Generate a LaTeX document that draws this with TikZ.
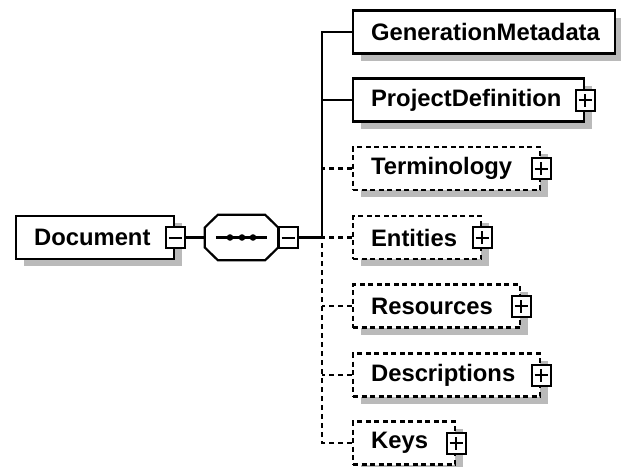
\documentclass[tikz,border=0pt]{standalone}
\usepackage{fontspec}
\setmainfont{Liberation Sans}
\usetikzlibrary{positioning,shadows,calc}

\begin{document}
\begin{tikzpicture}[x=1pt, y=-1pt,
  elem/.style={draw, line width=2.2pt, fill=white, anchor=west, align=left,
    inner xsep=18pt, inner ysep=0pt, minimum height=43pt,
    font=\fontsize{23.8}{27}\selectfont\bfseries,
    drop shadow={shadow xshift=8pt, shadow yshift=-7pt, opacity=1, fill=black!27}},
  optelem/.style={elem, dash pattern=on 5pt off 3.5pt},
  plusbox/.style={draw, fill=white, line width=2pt, minimum width=19pt, minimum height=21pt, inner sep=0pt,
    path picture={
      \draw[line width=2pt] ([xshift=3pt]path picture bounding box.west) -- ([xshift=-3pt]path picture bounding box.east);
      \draw[line width=2pt] ([yshift=4pt]path picture bounding box.south) -- ([yshift=-4pt]path picture bounding box.north);}},
  minusbox/.style={draw, fill=white, line width=2pt, minimum width=19pt, minimum height=21pt, inner sep=0pt,
    path picture={
      \draw[line width=2pt] ([xshift=3pt]path picture bounding box.west) -- ([xshift=-3pt]path picture bounding box.east);}},
  seqbox/.style={minimum width=73pt, minimum height=45pt, inner sep=0pt},
  conn/.style={line width=2.2pt},
  optconn/.style={conn, dash pattern=on 5pt off 4pt}]
\useasboundingbox (0,0) rectangle (621,466);

% root element and sequence
\node[elem, text width=122pt] (doc) at (15,237.5) {Document};
\node[minusbox] (docm) at (doc.east) {};
\node[seqbox] (seq) at (241.5,237.5) {};
\fill[black!27, shift={(8,7)}]
  ([xshift=13pt]seq.north west) -- ([xshift=-13pt]seq.north east) -- ([yshift=10pt]seq.east)
  -- ([yshift=-10pt]seq.east) -- ([xshift=-13pt]seq.south east) -- ([xshift=13pt]seq.south west)
  -- ([yshift=-10pt]seq.west) -- ([yshift=10pt]seq.west) -- cycle;
\draw[line width=2.2pt, fill=white]
  ([xshift=13pt]seq.north west) -- ([xshift=-13pt]seq.north east) -- ([yshift=10pt]seq.east)
  -- ([yshift=-10pt]seq.east) -- ([xshift=-13pt]seq.south east) -- ([xshift=13pt]seq.south west)
  -- ([yshift=-10pt]seq.west) -- ([yshift=10pt]seq.west) -- cycle;
\draw[conn] ([xshift=11pt]seq.west) -- ([xshift=-11pt]seq.east);
\foreach \dx in {230,242,253}
  \fill (\dx,237.5) circle (3.3pt);
\node[minusbox] (seqm) at (288,237.5) {};
\coordinate (jn) at (322,237.5);

% children
\node[elem, text width=226pt] (gen) at (352,32) {GenerationMetadata};
\node[elem, text width=195pt] (proj) at (352,100) {ProjectDefinition};
\node[optelem, text width=151pt] (term) at (352,168.5) {Terminology};
\node[optelem, text width=92pt] (ent) at (352,237.5) {Entities};
\node[optelem, text width=131pt] (res) at (352,306) {Resources};
\node[optelem, text width=151pt] (desc) at (352,375) {Descriptions};
\node[optelem, text width=66pt] (keys) at (352,443) {Keys};

\node[plusbox] at (proj.east) {};
\node[plusbox] at (term.east) {};
\node[plusbox] at (ent.east) {};
\node[plusbox] at (res.east) {};
\node[plusbox] at (desc.east) {};
\node[plusbox] at (keys.east) {};

% connectors
\draw[conn] (docm.east) -- (seq.west);
\draw[conn] (seqm.east) -- (jn);
\draw[conn] (gen.west) -| (jn);
\draw[conn] (proj.west) -- (proj.west -| jn);
\draw[optconn] (term.west) -- (term.west -| jn);
\draw[optconn] (ent.west) -- (jn);
\draw[optconn] (res.west) -- (res.west -| jn);
\draw[optconn] (desc.west) -- (desc.west -| jn);
\draw[optconn] (keys.west) -| (jn);
\end{tikzpicture}
\end{document}
